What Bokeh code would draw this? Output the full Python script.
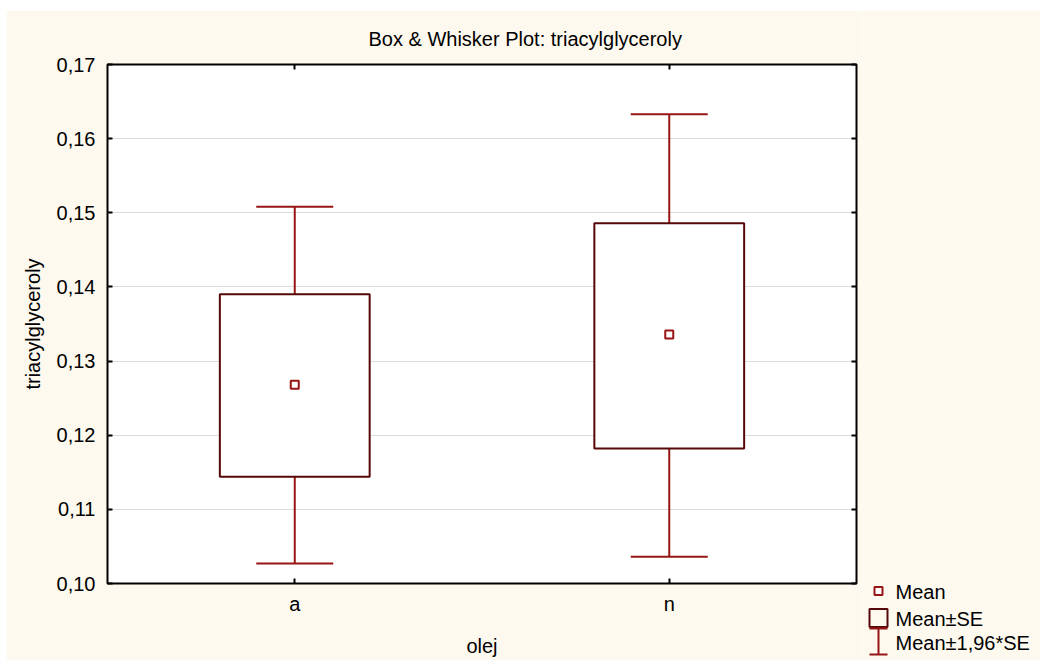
from bokeh.plotting import figure
from bokeh.layouts import row
from bokeh.models import (FactorRange, Range1d, FixedTicker, LinearAxis, CategoricalAxis,
                          Whisker, TeeHead, ColumnDataSource)
from bokeh.core.properties import value
from bokeh.embed import file_html
from bokeh.resources import INLINE

# Summary statistics of triacylglyceroly per oil type (olej)
groups = ["a", "n"]
means = [0.1268, 0.1336]
se_low = [0.1144, 0.1182]
se_high = [0.1390, 0.1486]
ci_low = [0.1027, 0.1036]
ci_high = [0.1508, 0.1633]

y_ticks = [0.10, 0.11, 0.12, 0.13, 0.14, 0.15, 0.16, 0.17]
y_tick_labels = ["0,10", "0,11", "0,12", "0,13", "0,14", "0,15", "0,16", "0,17"]

title_text = "Box & Whisker Plot: triacylglyceroly"
x_title = "olej"
y_title = "triacylglyceroly"
legend_labels = ["Mean", "Mean\u00b1SE", "Mean\u00b11,96*SE"]

FONT = "Liberation Sans"
CREAM = "#fdf9ef"
BOX_COLOR = "#560808"
WHISKER_COLOR = "#981515"

# ---------------------------------------------------------------- main chart
p = figure(width=856, height=650,
           x_range=FactorRange(*groups), y_range=Range1d(0.10, 0.17),
           output_backend="svg", toolbar_location=None,
           min_border_left=101, min_border_right=6,
           min_border_top=54, min_border_bottom=77,
           background_fill_color="white", border_fill_color=CREAM,
           outline_line_color="black", outline_line_width=2)
p.margin = (10, 0, 0, 6)
p.frame_align = False

p.title.text = title_text
p.title.text_font = FONT
p.title.text_font_size = "20px"
p.title.text_font_style = "normal"
p.title.text_color = "black"
p.title.align = "left"
p.title.offset = 261
p.title.standoff = 30

# grid
p.xgrid.grid_line_color = None
p.ygrid.ticker = FixedTicker(ticks=y_ticks)
p.ygrid.grid_line_color = "#dcdcdc"
p.ygrid.grid_line_width = 1

# axes
for ax in (p.xaxis[0], p.yaxis[0]):
    ax.axis_line_color = None
    ax.major_tick_in = 5
    ax.major_tick_out = 0
    ax.major_tick_line_width = 2
    ax.major_tick_line_color = "black"
    ax.minor_tick_line_color = None
    ax.major_label_text_font = FONT
    ax.major_label_text_font_size = "20px"
    ax.major_label_text_color = "black"
    ax.axis_label_text_font = FONT
    ax.axis_label_text_font_size = "20px"
    ax.axis_label_text_font_style = "normal"
    ax.axis_label_text_color = "black"

p.yaxis.ticker = FixedTicker(ticks=y_ticks)
p.yaxis.major_label_overrides = dict(zip(y_ticks, y_tick_labels))
p.yaxis.major_label_standoff = 12
p.yaxis.axis_label = y_title
p.yaxis.axis_label_standoff = 10

p.xaxis.axis_label = x_title
p.xaxis.major_label_standoff = 9
p.xaxis.axis_label_standoff = 17

# mirrored inner ticks on the right and top frame edges
right_axis = LinearAxis(ticker=FixedTicker(ticks=y_ticks))
top_axis = CategoricalAxis()
for ax in (right_axis, top_axis):
    ax.axis_line_color = None
    ax.major_tick_in = 5
    ax.major_tick_out = 0
    ax.major_tick_line_width = 2
    ax.major_tick_line_color = "black"
    ax.minor_tick_line_color = None
    ax.major_label_text_color = None
    ax.major_label_text_font_size = "1px"
    ax.major_label_standoff = 0
p.add_layout(right_axis, "right")
p.add_layout(top_axis, "above")

src = ColumnDataSource(dict(x=groups, mean=means, se_lo=se_low, se_hi=se_high,
                            ci_lo=ci_low, ci_hi=ci_high))

# Mean +/- 1.96*SE whiskers, drawn beneath the boxes
whisker = Whisker(source=src, base="x", lower="ci_lo", upper="ci_hi",
                  dimension="height", line_color=WHISKER_COLOR, line_width=2,
                  lower_head=TeeHead(size=77, line_color=WHISKER_COLOR, line_width=2),
                  upper_head=TeeHead(size=77, line_color=WHISKER_COLOR, line_width=2),
                  level="underlay")
p.add_layout(whisker)

# Mean +/- SE boxes
p.vbar(x="x", bottom="se_lo", top="se_hi", width=0.4, source=src,
       fill_color="white", line_color=BOX_COLOR, line_width=2)

# means
p.scatter(x="x", y="mean", source=src, marker="square", size=8,
          fill_color="white", line_color=WHISKER_COLOR, line_width=2)

# ---------------------------------------------------------------- legend panel
# pixel-scaled canvas to the right of the chart, holding the key symbols
leg = figure(width=178, height=650, x_range=Range1d(0, 178), y_range=Range1d(0, 650),
             output_backend="svg", toolbar_location=None,
             x_axis_type=None, y_axis_type=None,
             min_border=0, min_border_left=0, min_border_right=0,
             min_border_top=0, min_border_bottom=0,
             background_fill_color=CREAM, border_fill_color=CREAM,
             outline_line_color=None)
leg.margin = (10, 0, 0, 0)
leg.frame_align = False
leg.xgrid.visible = False
leg.ygrid.visible = False

sym_x = 16
leg.scatter(x=[sym_x], y=[69.5], marker="square", size=8,
            fill_color="white", line_color=WHISKER_COLOR, line_width=2)
leg.rect(x=[sym_x], y=[42.5], width=18, height=18,
         fill_color=None, line_color=BOX_COLOR, line_width=2)
leg.segment(x0=[sym_x, sym_x - 9, sym_x - 9], y0=[32, 32, 6],
            x1=[sym_x, sym_x + 9, sym_x + 9], y1=[6, 32, 6],
            line_color=WHISKER_COLOR, line_width=2)
leg.text(x=[33, 33, 33], y=[69, 42, 18], text=legend_labels,
         text_font=value(FONT), text_font_size="20px", text_color="black",
         text_baseline="middle", text_align="left")

layout = row(p, leg)
layout.spacing = 0

open("out.html", "w").write(file_html(layout, INLINE))
